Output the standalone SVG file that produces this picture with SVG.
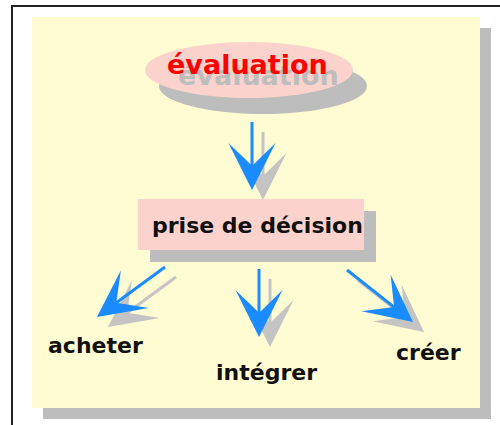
<svg xmlns="http://www.w3.org/2000/svg" width="500" height="425" viewBox="0 0 500 425">
  <style>
    .lbl { font-family: "DejaVu Sans", "Liberation Sans", sans-serif; font-weight: bold; font-size: 22px; fill: #111111; }
    .shadow { fill: #bdbdbd; }
    .ln { fill: none; stroke: #1a8cff; stroke-width: 3; }
    .lnS { fill: none; stroke: #c4c4c4; stroke-width: 3; }
  </style>
  <defs>
    <marker id="head" viewBox="-24 -24 49 48" markerWidth="49" markerHeight="48" refX="0" refY="0" markerUnits="userSpaceOnUse" orient="auto">
      <path d="M-23,-23.5 L24,0 L-23,23.5 L0,0 Z" fill="#1a8cff"/>
    </marker>
    <marker id="headS" viewBox="-24 -24 49 48" markerWidth="49" markerHeight="48" refX="0" refY="0" markerUnits="userSpaceOnUse" orient="auto">
      <path d="M-23,-23.5 L24,0 L-23,23.5 L0,0 Z" fill="#c4c4c4"/>
    </marker>
  </defs>

  <g id="frame">
    <rect x="12" y="6" width="520" height="450" fill="#ffffff" stroke="#222222" stroke-width="2"/>
    <rect x="43" y="28" width="448" height="391" class="shadow"/>
    <rect x="32" y="17" width="448" height="391" fill="#fffbd2"/>
  </g>

  <g id="evaluation">
    <ellipse cx="263" cy="86" rx="104" ry="28" class="shadow"/>
    <ellipse cx="249" cy="70" rx="104" ry="28" fill="#fbd3cc"/>
    <text x="178" y="85" font-family="DejaVu Sans, Liberation Sans, sans-serif" font-weight="bold" font-size="27" fill="#bdbdbd">évaluation</text>
    <text x="167" y="74" font-family="DejaVu Sans, Liberation Sans, sans-serif" font-weight="bold" font-size="27" fill="#ff0000">évaluation</text>
  </g>

  <g id="connectors">
    <g id="shadows" transform="translate(11,10)">
      <path class="lnS" d="M252,122 L252,166" marker-end="url(#headS)"/>
      <path class="lnS" d="M165,267 L116.3,302.8" marker-end="url(#headS)"/>
      <path class="lnS" d="M259,269 L259,313" marker-end="url(#headS)"/>
      <path class="lnS" d="M347,270 L394.1,307.1" marker-end="url(#headS)"/>
    </g>
    <path class="ln" d="M252,122 L252,166" marker-end="url(#head)"/>
    <path class="ln" d="M165,267 L116.3,302.8" marker-end="url(#head)"/>
    <path class="ln" d="M259,269 L259,313" marker-end="url(#head)"/>
    <path class="ln" d="M347,270 L394.1,307.1" marker-end="url(#head)"/>
  </g>

  <g id="decision">
    <rect x="150" y="211" width="226" height="51" class="shadow"/>
    <rect x="138" y="199" width="226" height="51" fill="#fbd3cc"/>
    <text x="152" y="233" class="lbl">prise de décision</text>
  </g>

  <g id="acheter">
    <text x="48" y="353" class="lbl">acheter</text>
  </g>
  <g id="integrer">
    <text x="216" y="380" class="lbl">intégrer</text>
  </g>
  <g id="creer">
    <text x="396" y="360" class="lbl">créer</text>
  </g>
</svg>
